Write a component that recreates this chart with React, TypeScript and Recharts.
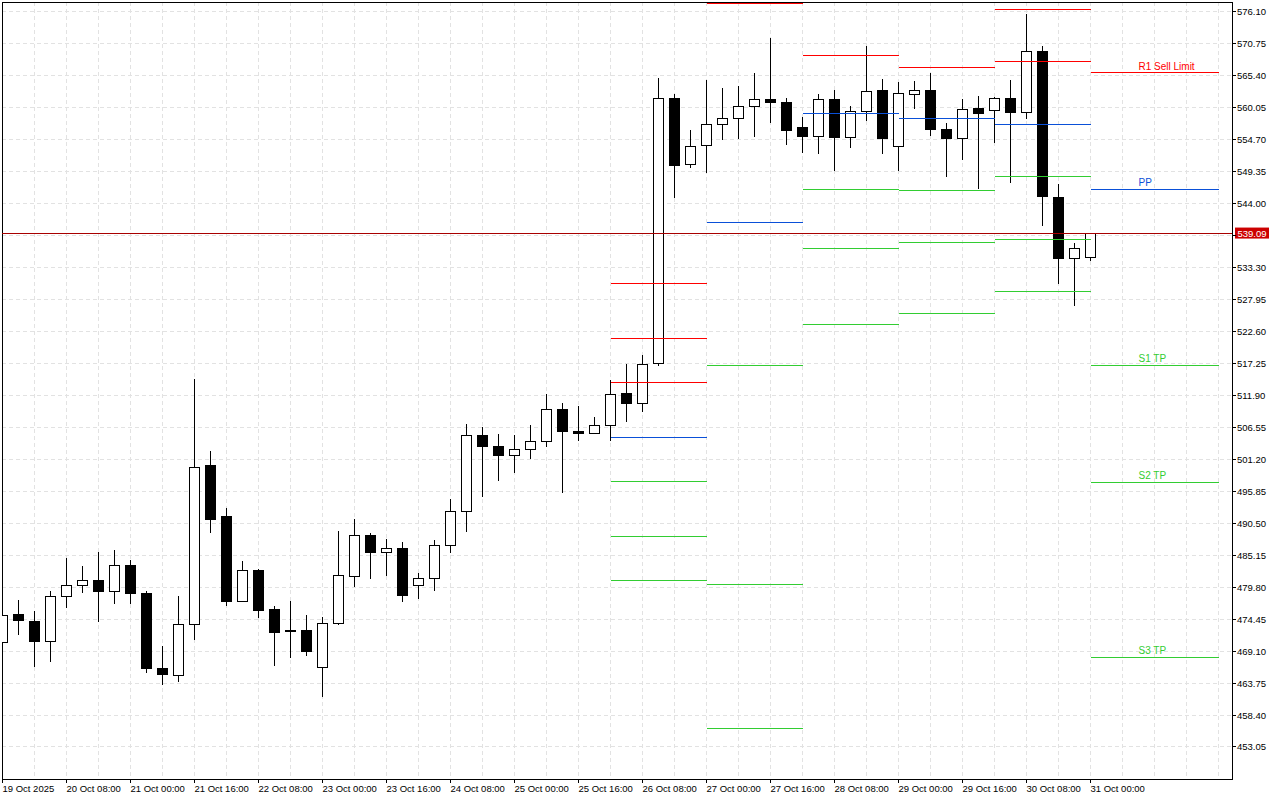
import React from 'react';
import { ComposedChart, XAxis, YAxis, CartesianGrid, ReferenceLine, ReferenceArea } from 'recharts';

// 4H candles, 19 Oct 16:00 .. 31 Oct 00:00
const opens = [
  470.6, 475.3, 474.1, 470.7, 478.3, 480.1, 481.0, 479.1, 483.5, 478.8,
  466.2, 465.1, 473.6, 500.1, 491.7, 477.4, 482.6, 476.0, 472.6, 472.6,
  466.4, 473.8, 481.6, 488.5, 485.6, 486.3, 480.1, 481.3, 486.8, 492.5,
  505.2, 503.4, 501.9, 502.9, 504.2, 509.6, 505.9, 505.6, 506.9, 512.2,
  510.6, 517.3, 561.7, 550.6, 553.8, 557.3, 558.3, 560.3, 561.5, 561.0,
  556.8, 555.3, 561.5, 555.1, 559.5, 563.0, 553.5, 562.3, 563.0, 556.5,
  555.0, 559.9, 559.6, 561.7, 559.2, 569.5, 545.1, 534.9, 535.0,
];
const highs = [
  475.2, 477.7, 475.8, 479.2, 484.7, 483.4, 485.7, 486.0, 484.4, 479.2,
  470.0, 478.3, 514.7, 502.6, 493.1, 484.2, 482.8, 476.7, 477.5, 475.1,
  474.8, 489.2, 491.2, 488.9, 487.9, 487.3, 482.2, 487.7, 494.5, 507.1,
  506.7, 505.4, 505.2, 507.0, 512.2, 510.6, 510.1, 508.3, 514.5, 517.2,
  518.7, 565.1, 562.4, 556.3, 564.7, 563.4, 563.7, 565.9, 571.7, 561.7,
  558.5, 562.4, 563.0, 560.4, 570.4, 564.9, 564.4, 564.6, 565.9, 557.5,
  561.5, 562.0, 561.9, 564.7, 575.8, 570.4, 547.3, 537.5, 539.09,
];
const lows = [
  470.5, 471.8, 466.5, 467.3, 476.4, 478.9, 473.9, 477.0, 477.0, 465.5,
  463.5, 464.0, 471.0, 488.8, 476.7, 477.3, 474.7, 466.6, 468.0, 468.3,
  461.5, 473.5, 479.8, 481.1, 481.7, 477.4, 477.9, 479.2, 485.6, 489.1,
  494.9, 497.6, 499.0, 501.3, 503.3, 495.5, 504.2, 505.4, 504.3, 507.5,
  509.2, 516.9, 545.0, 550.0, 549.2, 554.6, 554.9, 555.2, 557.6, 553.9,
  552.5, 552.4, 549.5, 553.4, 557.9, 552.4, 549.4, 559.9, 555.4, 548.4,
  551.4, 546.5, 554.1, 547.4, 558.2, 540.2, 530.6, 526.8, 534.4,
];
const closes = [
  475.1, 474.2, 470.7, 478.3, 480.1, 481.0, 479.1, 483.5, 478.7, 466.2,
  465.2, 473.6, 499.9, 491.1, 477.4, 482.6, 475.9, 472.2, 472.4, 469.0,
  473.8, 481.7, 488.5, 485.6, 486.3, 478.4, 481.2, 486.8, 492.5, 505.2,
  503.3, 501.8, 502.9, 504.2, 509.6, 505.8, 505.5, 506.9, 512.1, 510.5,
  517.1, 561.7, 550.4, 553.5, 557.3, 558.3, 560.3, 561.5, 560.9, 556.2,
  555.2, 561.5, 555.1, 559.5, 562.8, 554.9, 562.4, 563.0, 556.4, 555.0,
  559.8, 559.1, 561.7, 559.2, 569.5, 545.2, 534.9, 536.5, 539.09,
];

// one label every 4 bars
const timeLabels = [
  '19 Oct 2025', '20 Oct 08:00', '21 Oct 00:00', '21 Oct 16:00', '22 Oct 08:00',
  '23 Oct 00:00', '23 Oct 16:00', '24 Oct 08:00', '25 Oct 00:00', '25 Oct 16:00',
  '26 Oct 08:00', '27 Oct 00:00', '27 Oct 16:00', '28 Oct 08:00', '29 Oct 00:00',
  '29 Oct 16:00', '30 Oct 08:00', '31 Oct 00:00',
];

const priceTicks = [
  576.10, 570.75, 565.40, 560.05, 554.70, 549.35, 544.00, 538.65, 533.30, 527.95,
  522.60, 517.25, 511.90, 506.55, 501.20, 495.85, 490.50, 485.15, 479.80, 474.45,
  469.10, 463.75, 458.40, 453.05,
];

// daily pivot levels (26 Oct .. 31 Oct)
const dayStart = [38, 44, 50, 56, 62, 68];
const dayEnd = [44, 50, 56, 62, 68, 76];
const r3 = [530.7, null, null, null, null, null];
const r2 = [521.5, null, null, null, 576.55, null];
const r1 = [514.1, 577.56, 568.9, 566.84, 567.85, 565.89];
const pp = [504.9, 540.89, 559.14, 558.3, 557.3, 546.42];
const s1 = [497.5, 517.0, 546.42, 546.25, 548.59, 516.95];
const s2 = [488.3, 480.3, 536.54, 537.54, 537.93, 497.36];
const s3 = [481.0, 456.2, 523.82, 525.66, 529.34, 468.06];

const currentPrice = 539.09;

const RED = '#ff0000';
const BLUE = '#0a50d8';
const GREEN = '#32cd32';
const FONT = "'Liberation Sans', Arial, sans-serif";

const X_MIN = -1 / 32;
const X_MAX = 76.875 - 1 / 32;
const Y_MIN = 447.69;
const Y_MAX = 577.774;

const candles = opens.map((o, i) => ({
  i,
  open: o,
  high: highs[i],
  low: lows[i],
  close: closes[i],
}));

const levels = [
  { values: r3, color: RED, label: '' },
  { values: r2, color: RED, label: '' },
  { values: r1, color: RED, label: 'R1 Sell Limit' },
  { values: pp, color: BLUE, label: 'PP' },
  { values: s1, color: GREEN, label: 'S1 TP' },
  { values: s2, color: GREEN, label: 'S2 TP' },
  { values: s3, color: GREEN, label: 'S3 TP' },
];

const xTicks = Array.from({ length: 39 }, (_, k) => k * 2);

function TimeTick(props: any) {
  const { x, y, payload } = props;
  const v = payload.value;
  if (v % 4 !== 0 || v / 4 >= timeLabels.length) return <g />;
  return (
    <g>
      <line x1={x} x2={x} y1={y} y2={y + 4} stroke="#000" shapeRendering="crispEdges" />
      <text x={x} y={y + 13} fontSize={9.5} fontFamily={FONT} fill="#000">
        {timeLabels[v / 4]}
      </text>
    </g>
  );
}

function PriceTick(props: any) {
  const { x, y, payload } = props;
  const v = payload.value;
  return (
    <g>
      <line x1={x} x2={x + 4} y1={y} y2={y} stroke="#000" shapeRendering="crispEdges" />
      {v !== 538.65 && (
        <text x={x + 5} y={y + 3.5} fontSize={9.5} fontFamily={FONT} fill="#000">
          {v.toFixed(2)}
        </text>
      )}
    </g>
  );
}

function levelLabel(text: string, color: string) {
  return (props: any) => {
    const vb = props.viewBox;
    return (
      <text x={vb.x + 48} y={vb.y - 3} fontSize={10} fontFamily={FONT} fill={color}>
        {text}
      </text>
    );
  };
}

function PriceBox(props: any) {
  const vb = props.viewBox;
  const bx = vb.x + vb.width + 3;
  return (
    <g>
      <rect x={bx} y={vb.y - 5.5} width={34} height={11} fill="#cc0000" />
      <text x={bx + 17} y={vb.y + 3.5} textAnchor="middle" fontSize={9.5} fontFamily={FONT} fill="#fff">
        {currentPrice.toFixed(2)}
      </text>
    </g>
  );
}

export default function App() {
  return (
    <div style={{ position: 'absolute', left: 0, top: 0, background: '#fff' }}>
      <ComposedChart
        width={1280}
        height={800}
        data={candles}
        margin={{ top: 2, right: 0, bottom: 0, left: 2 }}
      >
        <CartesianGrid stroke="#e2e2e2" strokeDasharray="4 3" shapeRendering="crispEdges" />
        <XAxis
          dataKey="i"
          type="number"
          domain={[X_MIN, X_MAX]}
          ticks={xTicks}
          allowDataOverflow
          interval={0}
          height={21}
          tickSize={0}
          tickMargin={0}
          tickLine={false}
          axisLine={{ stroke: '#000', shapeRendering: 'crispEdges' }}
          tick={<TimeTick />}
        />
        <YAxis
          orientation="right"
          type="number"
          domain={[Y_MIN, Y_MAX]}
          ticks={priceTicks}
          allowDataOverflow
          interval={0}
          width={48}
          tickSize={0}
          tickMargin={0}
          tickLine={false}
          axisLine={{ stroke: '#000', shapeRendering: 'crispEdges' }}
          tick={<PriceTick />}
        />
        <ReferenceArea
          x1={X_MIN}
          x2={X_MAX}
          y1={Y_MIN}
          y2={Y_MAX}
          fill="none"
          stroke="#000"
          ifOverflow="visible"
          shapeRendering="crispEdges"
        />
        {candles.map((c) => {
          const top = Math.max(c.open, c.close);
          const bottom = Math.min(c.open, c.close);
          const up = c.close >= c.open;
          return (
            <React.Fragment key={'c' + c.i}>
              <ReferenceLine
                segment={[{ x: c.i, y: c.high }, { x: c.i, y: top }]}
                stroke="#000"
                ifOverflow="hidden"
                shapeRendering="crispEdges"
              />
              <ReferenceLine
                segment={[{ x: c.i, y: bottom }, { x: c.i, y: c.low }]}
                stroke="#000"
                ifOverflow="hidden"
                shapeRendering="crispEdges"
              />
              <ReferenceArea
                x1={c.i - 0.3125}
                x2={c.i + 0.3125}
                y1={bottom}
                y2={top}
                fill={up ? '#fff' : '#000'}
                fillOpacity={1}
                stroke="#000"
                strokeWidth={1}
                ifOverflow="hidden"
                shapeRendering="crispEdges"
              />
            </React.Fragment>
          );
        })}
        {levels.map((lv, li) =>
          lv.values.map((v, d) =>
            v == null ? null : (
              <ReferenceLine
                key={'l' + li + '-' + d}
                segment={[{ x: dayStart[d], y: v }, { x: dayEnd[d], y: v }]}
                stroke={lv.color}
                strokeWidth={1}
                ifOverflow="hidden"
                shapeRendering="crispEdges"
                label={d === dayStart.length - 1 && lv.label ? levelLabel(lv.label, lv.color) : undefined}
              />
            )
          )
        )}
        <ReferenceLine
          y={currentPrice}
          stroke="#a80000"
          strokeWidth={1}
          shapeRendering="crispEdges"
          label={<PriceBox />}
        />
      </ComposedChart>
    </div>
  );
}
